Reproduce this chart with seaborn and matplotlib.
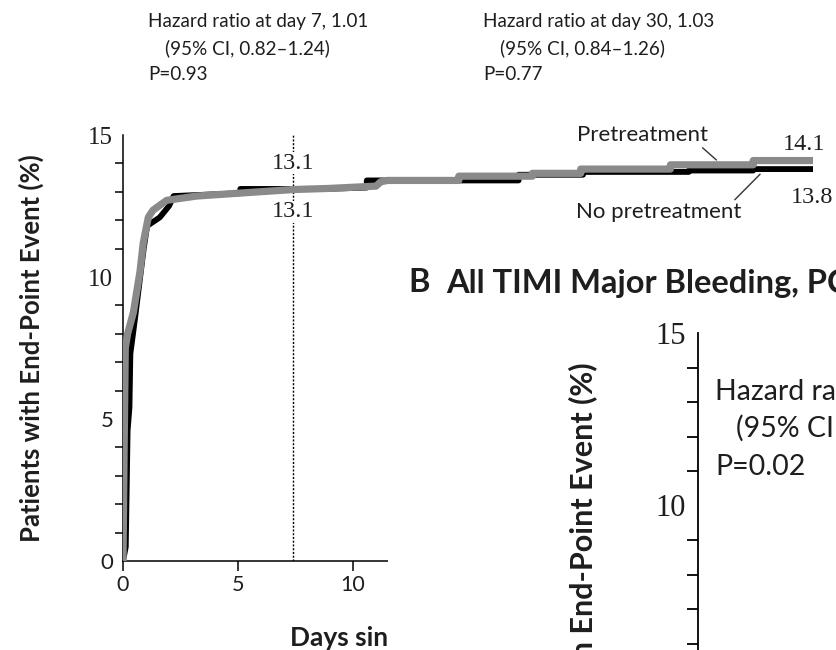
import matplotlib
matplotlib.use("Agg")
import matplotlib.pyplot as plt
from matplotlib.patches import Rectangle
from matplotlib.ticker import MultipleLocator, FixedLocator
import seaborn as sns
import pandas as pd

sns.set_theme(style="white")
SANS = ["Lato", "DejaVu Sans"]
SERIF = ["Liberation Serif", "DejaVu Serif"]
plt.rcParams["font.family"] = SANS

# Kaplan-Meier estimates, primary end point (days since randomization, % with event)
pre_days = [0.00, 0.05, 0.10, 0.20, 0.45, 0.74, 0.88, 1.10, 1.30, 1.90, 3.20, 5.00,
            7.40, 9.00, 11.0, 11.2, 11.5, 14.6, 14.6, 17.8, 17.8, 19.9, 19.9, 23.8,
            23.8, 27.4, 27.4, 30.0]
pre_pct = [0.0, 4.0, 7.5, 8.0, 8.75, 10.2, 11.2, 12.1, 12.35, 12.7, 12.85, 12.95,
           13.08, 13.12, 13.2, 13.35, 13.4, 13.4, 13.55, 13.55, 13.65, 13.65, 13.8, 13.8,
           13.95, 13.95, 14.1, 14.1]
nopre_days = [0.00, 0.12, 0.20, 0.28, 0.32, 0.50, 0.70, 0.90, 1.05, 1.60, 2.00, 2.20,
              5.10, 5.10, 8.70, 10.6, 10.6, 17.2, 17.2, 20.0, 20.0, 24.6, 24.6, 27.4,
              27.4, 30.0]
nopre_pct = [0.0, 0.5, 4.6, 5.4, 7.3, 8.4, 9.7, 11.0, 11.8, 12.1, 12.5, 12.85,
             12.95, 13.1, 13.1, 13.15, 13.4, 13.4, 13.6, 13.6, 13.7, 13.7, 13.75, 13.75,
             13.8, 13.8]

landmark_day = 7.4
landmark_pre, landmark_nopre = 13.1, 13.1
final_pre, final_nopre = 14.1, 13.8

hr_day7 = ["Hazard ratio at day 7, 1.01", "(95% CI, 0.82\u20131.24)", "P=0.93"]
hr_day30 = ["Hazard ratio at day 30, 1.03", "(95% CI, 0.84\u20131.26)", "P=0.77"]
hr_panel_b = ["Hazard ratio at day 7", "(95% CI", "P=0.02"]

y_ticks = [0, 5, 10, 15]
x_ticks = [0, 5, 10, 15, 20, 25, 30]

W, H = 837, 650
fig = plt.figure(figsize=(W / 100, H / 100), dpi=100)
fig.patch.set_facecolor("white")
INK = "#1e1e1e"


def fx(px):
    return px / W


def fy(py):
    return 1 - py / H


# ---- Panel A ----
axA = fig.add_axes([fx(123), fy(561), fx(813) - fx(123), fy(135) - fy(561)])
axA.set_facecolor("none")

df_no = pd.DataFrame({"day": nopre_days, "pct": nopre_pct})
df_pre = pd.DataFrame({"day": pre_days, "pct": pre_pct})
sns.lineplot(data=df_no, x="day", y="pct", ax=axA, color="black", lw=4.2, sort=False,
             estimator=None, solid_capstyle="round", zorder=3)
sns.lineplot(data=df_pre, x="day", y="pct", ax=axA, color="#8a8a8a", lw=5.2, sort=False,
             estimator=None, solid_capstyle="round", zorder=4)

axA.set_xlim(0, 30)
axA.set_ylim(0, 15)
axA.xaxis.set_major_locator(FixedLocator(x_ticks))
axA.yaxis.set_major_locator(FixedLocator(y_ticks))
axA.yaxis.set_minor_locator(MultipleLocator(1))
axA.tick_params(axis="both", which="major", direction="out", length=7, width=1.1,
                color="black", labelcolor=INK)
axA.tick_params(axis="y", which="minor", direction="out", length=6, width=1.1,
                color="black", left=True)
axA.tick_params(axis="x", labelsize=15.5, pad=3, bottom=True)
axA.tick_params(axis="y", labelsize=18, pad=0)
for lab in axA.get_yticklabels():
    if lab.get_text() in ("10", "15"):
        lab.set_family(SERIF)
    else:
        lab.set_family(SANS)
        lab.set_fontsize(16)
for side in ("top", "right"):
    axA.spines[side].set_visible(False)
for side in ("left", "bottom"):
    axA.spines[side].set_color("black")
    axA.spines[side].set_linewidth(1.1)

axA.set_ylabel("Patients with End-Point Event (%)", fontsize=18.5, fontweight="bold",
               color=INK, va="center")
axA.yaxis.set_label_coords((31 - 123) / 690, 0.5)
axA.set_xlabel("Days since Randomization", fontsize=19, fontweight="bold",
               color=INK, ha="left", va="center")
axA.xaxis.set_label_coords((290 - 123) / 690, (561 - 638) / 426)

axA.axvline(landmark_day, color="black", lw=1, ls=(0, (1.5, 1.2)), zorder=2)
for val, yy in ((landmark_pre, 14.0), (landmark_nopre, 12.3)):
    axA.text(landmark_day, yy, f"{val:.1f}", ha="center", va="center", fontsize=17.5,
             family=SERIF, color=INK, zorder=5,
             bbox=dict(facecolor="white", edgecolor="none", pad=0.3))
axA.text(29.6, 14.65, f"{final_pre:.1f}", ha="center", va="center", fontsize=17.5,
         family=SERIF, color=INK)
axA.text(29.95, 12.8, f"{final_nopre:.1f}", ha="center", va="center", fontsize=17.5,
         family=SERIF, color=INK)

axA.text(22.6, 15.0, "Pretreatment", ha="center", va="center", fontsize=16, color=INK)
axA.plot([25.2, 25.8], [14.55, 14.12], color="#333333", lw=1)
axA.text(23.3, 12.3, "No pretreatment", ha="center", va="center", fontsize=16, color=INK)
axA.plot([26.6, 27.7], [12.72, 13.62], color="#333333", lw=1)

# Hazard-ratio annotations above panel A
for x0, lines in ((148, hr_day7), (483, hr_day30)):
    for i, (t, yy) in enumerate(zip(lines, (22, 48, 75))):
        fig.text(fx(x0 + (17 if i == 1 else 0)), fy(yy), t, ha="left", va="center",
                 fontsize=13.6, color=INK)

# ---- Panel B sheet laid over the lower right ----
fig.add_artist(Rectangle((fx(388), 0), 1 - fx(388), fy(240), transform=fig.transFigure,
                         facecolor="white", edgecolor="none", zorder=1))

fig.text(fx(408), fy(283), "B", fontsize=23.5, fontweight="bold", color=INK,
         ha="left", va="center", zorder=6)
fig.text(fx(446), fy(283), "All TIMI Major Bleeding, PCI Patients", fontsize=23.5,
         fontweight="bold", color=INK, ha="left", va="center", zorder=6)

axB = fig.add_axes([fx(698), fy(333 + 15 * 34.5), 0.4, (15 * 34.5) / H])
axB.set_zorder(3)
axB.set_facecolor("none")
axB.set_xlim(0, 30)
axB.set_ylim(0, 15)
axB.yaxis.set_major_locator(FixedLocator([0, 5, 10, 15]))
axB.yaxis.set_minor_locator(MultipleLocator(1))
axB.set_xticks([])
axB.tick_params(axis="y", which="major", direction="out", length=9, width=1.3,
                color="black", labelsize=22, labelcolor=INK, pad=0)
axB.tick_params(axis="y", which="minor", direction="out", length=8, width=1.3,
                color="black", left=True)
for lab in axB.get_yticklabels():
    lab.set_family(SERIF)
for side in ("top", "right", "bottom"):
    axB.spines[side].set_visible(False)
axB.spines["left"].set_color("black")
axB.spines["left"].set_linewidth(1.3)
axB.set_ylabel("Patients with End-Point Event (%)", fontsize=22, fontweight="bold",
               color=INK, va="center")
axB.yaxis.set_label_coords((583 - 698) / (0.4 * W), 0.5)

for i, (t, yy) in enumerate(zip(hr_panel_b, (392, 428, 467))):
    fig.text(fx(715 + (21 if i == 1 else 0)), fy(yy), t, ha="left", va="center",
             fontsize=20.5, color=INK, zorder=6)

fig.savefig("out.png", dpi=100, facecolor="white")
